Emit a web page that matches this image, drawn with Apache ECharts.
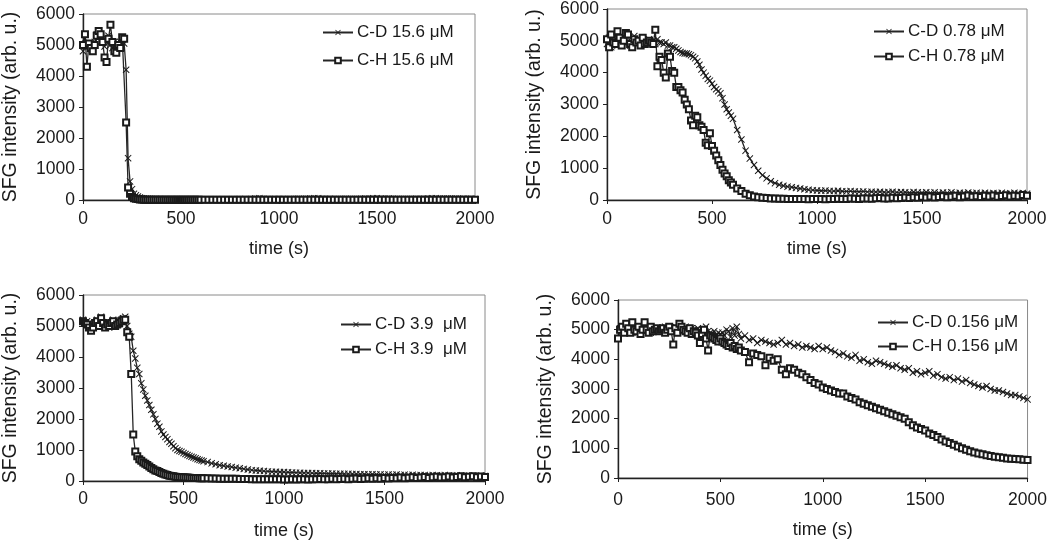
<!DOCTYPE html>
<html>
<head>
<meta charset="utf-8">
<script src="https://cdn.jsdelivr.net/npm/echarts@6/dist/echarts.min.js"></script>
<style>
html,body{margin:0;padding:0;background:#fff;}
#chart{width:1050px;height:541px;}
</style>
</head>
<body>
<div id="chart"></div>
<script>
// sample times (s): every 10 s up to 600 s, then every 20 s
const T = [
  0,10,20,30,40,50,60,70,80,90,100,110,120,130,140,150,160,170,180,190,200,
  210,220,230,240,250,260,270,280,290,300,310,320,330,340,350,360,370,380,390,400,
  410,420,430,440,450,460,470,480,490,500,510,520,530,540,550,560,570,580,590,600,
  620,640,660,680,700,720,740,760,780,800,820,840,860,880,900,920,940,960,980,1000,
  1020,1040,1060,1080,1100,1120,1140,1160,1180,1200,1220,1240,1260,1280,1300,1320,1340,1360,1380,1400,
  1420,1440,1460,1480,1500,1520,1540,1560,1580,1600,1620,1640,1660,1680,1700,1720,1740,1760,1780,1800,
  1820,1840,1860,1880,1900,1920,1940,1960,1980,2000
];

const xTicks = [0, 500, 1000, 1500, 2000];
const yTicks = [0, 1000, 2000, 3000, 4000, 5000, 6000];

// Panel 1: 15.6 uM
const cd156 = [
  4800,5200,5000,4950,5000,4900,5100,5350,5250,5100,5200,4950,5100,5300,5000,4900,5100,5000,5050,5100,5150,
  5050,4200,1350,600,350,200,150,110,80,60,50,40,40,30,30,25,30,20,25,20,
  20,25,15,20,20,15,20,25,20,15,20,20,15,20,25,20,15,20,20,15,
  20,15,20,25,20,15,20,25,20,30,25,20,30,45,60,40,30,25,30,35,
  30,25,30,35,40,35,40,45,60,55,40,35,40,35,30,35,40,35,30,35,
  40,45,40,55,60,45,40,45,40,35,30,35,30,35,40,35,40,45,55,60,
  50,45,50,45,50,40,45,35,40,30
];
const ch156 = [
  5000,5350,4300,5050,4900,4800,5000,5300,5450,5350,5100,4600,4450,5200,5650,5100,4800,4750,5000,4900,5250,
  5200,2500,400,200,100,60,40,30,20,15,10,10,8,8,6,6,5,5,5,5,
  5,5,5,5,5,5,5,5,5,5,5,5,5,5,5,5,5,5,5,5,
  5,8,5,5,10,5,5,8,5,5,5,8,5,5,10,5,5,8,5,5,
  5,8,5,5,10,5,5,8,5,5,5,8,5,5,10,5,5,8,5,5,
  5,8,5,5,10,5,5,8,5,5,5,8,5,5,10,5,5,8,5,5,
  5,8,5,5,10,5,5,8,5,5
];

// Panel 2: 0.78 uM
const cd078 = [
  4900,5100,4800,5000,5200,4850,5050,4950,5100,4900,5000,4850,5050,5150,4900,5000,4850,5100,4950,5000,5050,
  4950,5000,4900,5050,4950,4950,4900,4950,4850,4850,4800,4800,4750,4700,4650,4620,4600,4600,4580,4550,
  4500,4450,4350,4250,4100,4000,3900,3800,3750,3650,3550,3480,3420,3350,3200,3000,2850,2750,2650,2550,
  2200,1900,1550,1300,1100,920,780,680,590,530,480,450,420,400,380,360,340,320,310,300,
  290,295,285,280,290,275,270,280,265,260,270,255,260,250,260,245,250,260,240,250,
  245,230,250,240,230,245,225,240,220,235,225,240,215,230,220,235,210,225,215,230,
  205,220,210,225,200,215,230,205,220,200
];
const ch078 = [
  5050,4800,5200,4950,4900,5300,5100,4850,5000,5250,5200,4900,4800,5050,4950,5000,4850,5100,4900,4950,5000,
  4950,4900,5350,4200,4500,4400,4000,3850,4600,4500,4050,4000,3550,3550,3450,3380,3150,3000,2850,2500,
  2350,2650,2600,2350,2300,2200,1800,1720,2100,1700,1550,1400,1250,1100,950,830,750,620,550,480,
  360,280,200,150,110,90,70,60,50,45,40,40,35,30,35,30,30,25,30,35,
  30,25,35,30,40,35,30,45,40,35,50,45,40,55,60,45,50,70,55,60,
  80,60,90,70,100,80,110,75,95,120,90,100,130,85,110,140,100,120,95,130,
  110,145,100,125,150,110,135,120,160,130
];

// Panel 3: 3.9 uM
const cd39 = [
  5200,5100,5150,5000,4900,5000,5100,5200,5050,5300,5100,5000,5150,4950,5050,5200,5000,5100,5050,5200,5250,
  5300,5000,4750,4650,4200,3950,3650,3450,3150,2950,2750,2600,2450,2300,2150,2000,1850,1750,1600,1500,
  1420,1350,1260,1200,1120,1060,1000,970,940,900,870,840,810,780,760,730,700,680,660,640,
  610,570,540,510,490,470,450,430,410,390,370,350,340,330,320,310,300,300,290,290,
  280,275,270,265,260,260,255,250,250,245,240,240,235,235,230,230,225,225,220,220,
  215,220,210,215,205,210,200,210,195,205,190,200,185,195,190,180,195,185,175,190,
  180,170,185,175,165,180,170,160,175,165
];
const ch39 = [
  5150,5100,5050,4950,4850,4950,5100,5150,5000,5250,5100,4950,5050,5000,5100,5150,5000,5050,5100,5150,5200,
  5200,4800,4650,3450,1500,950,800,700,650,600,560,520,470,420,380,340,320,290,260,230,
  210,190,170,160,150,140,130,130,120,120,115,110,105,100,100,95,95,90,90,85,
  85,80,80,75,75,70,70,70,65,65,65,60,60,60,60,55,55,55,55,50,
  50,55,50,60,55,50,60,55,65,60,55,70,60,65,75,60,70,80,65,75,
  85,70,90,75,95,80,100,85,110,90,105,120,95,115,130,100,120,140,110,125,
  145,115,130,150,120,140,155,125,145,130
];

// Panel 4: 0.156 uM
const cd0156 = [
  4700,5050,5100,4950,5000,5150,5050,4900,5100,5000,4950,5050,5000,4950,5100,5000,4900,5050,5000,4950,5050,
  5000,4950,5100,5000,4950,5050,5000,5100,5050,5150,5050,5000,5100,5000,4950,5050,5000,4900,5050,4950,
  5000,4900,5100,4950,4900,4850,4950,4800,4900,4850,4900,4800,5000,4950,4750,5050,4800,5100,4850,4700,
  4800,4650,4700,4550,4650,4600,4550,4500,4550,4650,4500,4550,4450,4500,4400,4450,4400,4350,4450,4350,
  4400,4300,4250,4150,4200,4100,4050,4150,3950,4000,3900,3850,3950,3900,3850,3800,3750,3800,3700,3650,
  3700,3550,3600,3500,3550,3600,3450,3500,3400,3350,3400,3300,3350,3250,3300,3200,3150,3100,3050,3100,
  3000,2950,2950,2900,2850,2800,2800,2750,2700,2650
];
const ch0156 = [
  4700,5000,5100,4900,5200,5050,4900,5250,5000,4950,5100,4850,5000,5250,5000,4900,5100,4950,5000,5050,4950,
  5000,5050,4900,5000,5100,4950,4500,5050,4900,5200,5100,5000,4950,4900,5050,4850,4950,4900,4800,4550,
  4850,5000,4700,4300,4800,4750,4700,4650,4600,4700,4600,4550,4500,4450,4550,4400,4450,4350,4400,4300,
  4250,3900,4200,4150,4100,3800,4050,3950,4000,3650,3500,3700,3650,3550,3500,3400,3300,3200,3150,3050,
  3000,2950,2900,2850,2850,2750,2700,2650,2550,2500,2450,2400,2350,2300,2250,2200,2150,2100,2050,2000,
  1880,1780,1700,1650,1600,1500,1450,1380,1300,1230,1180,1120,1060,1000,950,900,860,830,800,770,
  740,720,700,680,660,650,640,630,615,605
];

const panels = [
  { cd: cd156, ch: ch156, cdName: 'C-D 15.6 μM', chName: 'C-H 15.6 μM',
    grid: { left: 81, top: 14, width: 394, height: 186 },
    legend: { left: 322, top: 24, itemGap: 11 }, labelMargin: 10, nameGapX: 40 },
  { cd: cd078, ch: ch078, cdName: 'C-D 0.78 μM', chName: 'C-H 0.78 μM',
    grid: { left: 607, top: 8, width: 420, height: 192 },
    legend: { left: 873, top: 23, itemGap: 8 }, labelMargin: 10, nameGapX: 40 },
  { cd: cd39, ch: ch39, cdName: 'C-D 3.9  μM', chName: 'C-H 3.9  μM',
    grid: { left: 83, top: 295, width: 402, height: 187 },
    legend: { left: 340, top: 316, itemGap: 8 }, labelMargin: 9, nameGapX: 41 },
  { cd: cd0156, ch: ch0156, cdName: 'C-D 0.156 μM', chName: 'C-H 0.156 μM',
    grid: { left: 618, top: 300, width: 412, height: 178 },
    legend: { left: 877, top: 314, itemGap: 7 }, labelMargin: 13, nameGapX: 43 }
];

const FONT = '"Liberation Sans", Arial, sans-serif';
const TXT = '#1a1a1a';
const LINE = '#262626';
const xSymbol = 'path://M1,0 L5,4 L9,0 L10,1 L6,5 L10,9 L9,10 L5,6 L1,10 L0,9 L4,5 L0,1 Z';

const pairs = (vals) => T.map((t, i) => [t, vals[i]]);
const plain = (v) => String(v);

const option = {
  animation: false,
  backgroundColor: '#fff',
  textStyle: { fontFamily: FONT, color: TXT },
  grid: panels.map(p => Object.assign({ show: true, borderColor: '#8a8a8a', borderWidth: 1, backgroundColor: '#fff' }, p.grid)),
  xAxis: panels.map((p, i) => ({
    type: 'value', gridIndex: i, min: xTicks[0], max: xTicks[xTicks.length - 1],
    interval: xTicks[1] - xTicks[0],
    name: 'time (s)', nameLocation: 'middle', nameGap: p.nameGapX,
    nameTextStyle: { fontSize: 18, color: TXT, fontFamily: FONT },
    axisLine: { show: true, lineStyle: { color: '#222', width: 1.4 } },
    axisTick: { show: true, length: 4, lineStyle: { color: '#222' } },
    axisLabel: { fontSize: 17.5, color: TXT, margin: p.labelMargin, fontFamily: FONT, formatter: plain },
    splitLine: { show: false }
  })),
  yAxis: panels.map((p, i) => ({
    type: 'value', gridIndex: i, min: yTicks[0], max: yTicks[yTicks.length - 1],
    interval: yTicks[1] - yTicks[0],
    name: 'SFG intensity (arb. u.)', nameLocation: 'middle', nameGap: 62,
    nameTextStyle: { fontSize: 19.5, color: TXT, fontFamily: FONT },
    axisLine: { show: true, lineStyle: { color: '#222', width: 1.4 } },
    axisTick: { show: true, length: 4, lineStyle: { color: '#222' } },
    axisLabel: { fontSize: 17.5, color: TXT, margin: 8, fontFamily: FONT, formatter: plain },
    splitLine: { show: false }
  })),
  legend: panels.map(p => ({
    orient: 'vertical', left: p.legend.left, top: p.legend.top, itemGap: p.legend.itemGap,
    itemWidth: 30, itemHeight: 7, padding: 0,
    data: [p.cdName, p.chName],
    textStyle: { fontSize: 17, color: TXT, fontFamily: FONT, padding: [0, 0, 0, -1] }
  })),
  series: []
};

panels.forEach((p, i) => {
  option.series.push({
    name: p.cdName, type: 'line', xAxisIndex: i, yAxisIndex: i,
    data: pairs(p.cd), symbol: xSymbol, symbolSize: 7, showAllSymbol: true,
    lineStyle: { color: LINE, width: 1.3 },
    itemStyle: { color: '#1a1a1a' }
  });
  option.series.push({
    name: p.chName, type: 'line', xAxisIndex: i, yAxisIndex: i,
    data: pairs(p.ch), symbol: 'emptyRect', symbolSize: 6, showAllSymbol: true,
    lineStyle: { color: LINE, width: 1.3 },
    itemStyle: { color: '#1a1a1a', borderWidth: 1.2 }
  });
});

const chart = echarts.init(document.getElementById('chart'), null, { renderer: 'canvas' });
chart.setOption(option);
</script>
</body>
</html>
